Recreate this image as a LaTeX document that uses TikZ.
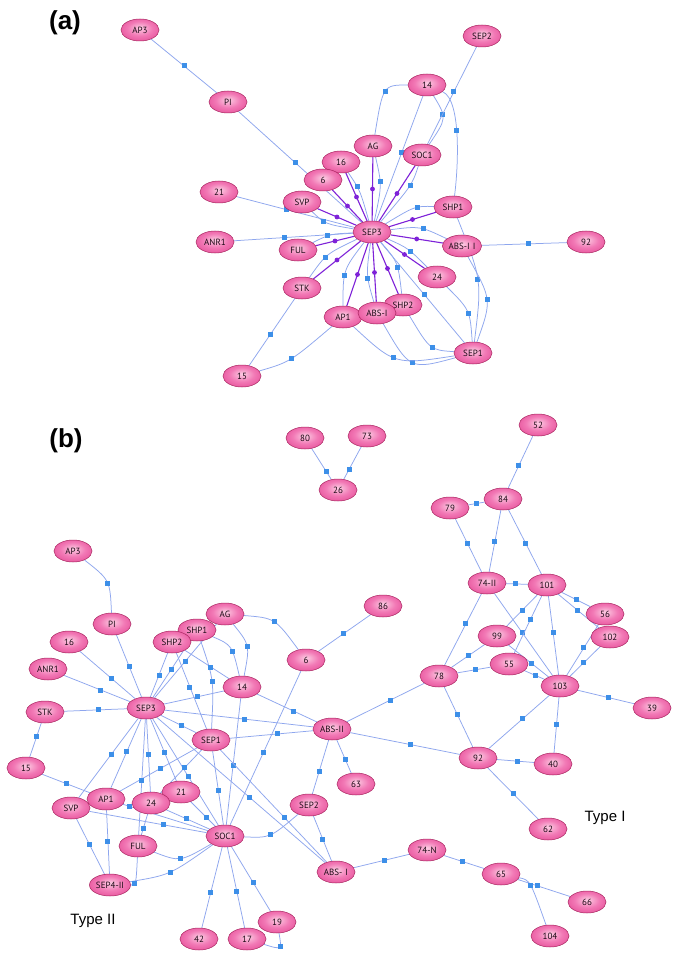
\documentclass[tikz,border=0pt]{standalone}
\usepackage{fontspec}
\setmainfont{Liberation Sans}
\newfontfamily\nodefont{PT Sans}
\usetikzlibrary{shapes.geometric}
\definecolor{edgeb}{HTML}{8EA6EE}
\definecolor{sqb}{HTML}{3D8FE8}
\definecolor{purp}{HTML}{7E22D8}
\definecolor{ninner}{HTML}{FCCDE3}
\definecolor{nmid}{HTML}{F27AB6}
\definecolor{nouter}{HTML}{E03C8C}
\definecolor{noutline}{HTML}{A8245F}
\definecolor{ntext}{HTML}{1E0A16}
\pgfdeclarelayer{bglayer}
\pgfdeclarelayer{edgelayer}
\pgfsetlayers{bglayer,edgelayer,main}
\pgfdeclareradialshading{nodeball}{\pgfpoint{0bp}{5bp}}{color(0bp)=(ninner); color(16bp)=(nmid); color(38bp)=(nouter); color(50bp)=(nouter)}
\tikzset{
  gn/.style={ellipse, draw=noutline, line width=0.5pt, shading=nodeball,
    minimum width=38pt, minimum height=22pt, inner sep=0.5pt,
    font=\nodefont\fontsize{9}{9}\selectfont, text=ntext},
  sqm/.style={rectangle, fill=sqb, minimum size=5pt, inner sep=0pt},
  dotp/.style={circle, fill=purp, minimum size=4.8pt, inner sep=0pt},
  eb/.style={draw=edgeb, line width=0.75pt},
  ep/.style={draw=purp, line width=1.1pt},
  panlab/.style={font=\bfseries\fontsize{26}{26}\selectfont, inner sep=0pt},
  typelab/.style={font=\fontsize{15}{15}\selectfont, inner sep=0pt}
}
\newcommand{\lnk}[3][0.5]{\draw[eb] (#2) -- node[sqm,pos=#1]{} (#3);}
\newcommand{\lnkc}[4][0.5]{\draw[eb] (#2) .. controls (#4) .. (#3) node[sqm,pos=#1]{};}
\newcommand{\lnkp}[2]{\draw[ep] (#1) -- node[dotp,pos=0.5]{} (#2);}
\begin{document}
\begin{tikzpicture}[x=1pt,y=-1pt]
\useasboundingbox (0,0) rectangle (685,968);
\begin{pgfonlayer}{bglayer}
\fill[white] (0,0) rectangle (685,968);
\end{pgfonlayer}
% ---------------- panel (a) ----------------
\node[panlab] (la) at (65,23) {(a)};
\node[gn] (aAP3) at (140,30) {AP3};
\node[gn] (aSEP2) at (482,36) {SEP2};
\node[gn] (a14) at (427,85) {14};
\node[gn] (aPI) at (228,102) {PI};
\node[gn] (aAG) at (373,146) {AG};
\node[gn] (aSOC1) at (422,155) {SOC1};
\node[gn] (a16) at (341,162) {16};
\node[gn] (a6) at (323,180) {6};
\node[gn] (a21) at (219,192) {21};
\node[gn] (aSVP) at (302,202) {SVP};
\node[gn] (aSHP1) at (453,207) {SHP1};
\node[gn] (aSEP3) at (372,232) {SEP3};
\node[gn] (aANR1) at (215,242) {ANR1};
\node[gn] (aFUL) at (298,250) {FUL};
\node[gn] (aABSII) at (462,246) {ABS-I\,\,I};
\node[gn] (a92) at (586,242) {92};
\node[gn] (a24) at (437,277) {24};
\node[gn] (aSTK) at (302,288) {STK};
\node[gn] (aSHP2) at (403,305) {SHP2};
\node[gn] (aAP1) at (343,317) {AP1};
\node[gn] (aABSI) at (377,313) {ABS-I};
\node[gn] (aSEP1) at (473,353) {SEP1};
\node[gn] (a15) at (242,376) {15};
% ---------------- panel (b) ----------------
\node[panlab] (lb) at (66,441) {(b)};
\node[gn] (bAP3) at (73,551) {AP3};
\node[gn] (bPI) at (112,624) {PI};
\node[gn] (bAG) at (225,614) {AG};
\node[gn] (bSHP1) at (197,630) {SHP1};
\node[gn] (bSHP2) at (172,642) {SHP2};
\node[gn] (b16) at (69,642) {16};
\node[gn] (bANR1) at (48,669) {ANR1};
\node[gn] (b6) at (306,660) {6};
\node[gn] (b14) at (242,687) {14};
\node[gn] (bSEP3) at (146,708) {SEP3};
\node[gn] (bSTK) at (45,712) {STK};
\node[gn] (bABSII) at (332,729) {ABS-II};
\node[gn] (bSEP1) at (211,740) {SEP1};
\node[gn] (b15) at (26,768) {15};
\node[gn] (b21) at (181,792) {21};
\node[gn] (b63) at (356,784) {63};
\node[gn] (bSEP2) at (309,805) {SEP2};
\node[gn] (bSVP) at (71,808) {SVP};
\node[gn] (bAP1) at (106,799) {AP1};
\node[gn] (b24) at (151,803) {24};
\node[gn] (bSOC1) at (225,836) {SOC1};
\node[gn] (bFUL) at (138,846) {FUL};
\node[gn] (bABSI) at (336,872) {ABS-\,\,I};
\node[gn] (bSEP4) at (110,885) {SEP4-II};
\node[gn] (b19) at (277,922) {19};
\node[gn] (b42) at (199,939) {42};
\node[gn] (b17) at (247,939) {17};
\node[gn] (b86) at (383,606) {86};
\node[gn] (b80) at (305,438) {80};
\node[gn] (b73) at (367,436) {73};
\node[gn] (b26) at (338,490) {26};
\node[gn] (b52) at (538,425) {52};
\node[gn] (b84) at (503,499) {84};
\node[gn] (b79) at (450,508) {79};
\node[gn] (b74II) at (487,583) {74-II};
\node[gn] (b101) at (547,585) {101};
\node[gn] (b56) at (605,614) {56};
\node[gn] (b102) at (610,637) {102};
\node[gn] (b99) at (497,636) {99};
\node[gn] (b55) at (509,664) {55};
\node[gn] (b78) at (439,676) {78};
\node[gn] (b103) at (560,686) {103};
\node[gn] (b39) at (652,708) {39};
\node[gn] (b92) at (478,758) {92};
\node[gn] (b40) at (553,764) {40};
\node[gn] (b62) at (548,829) {62};
\node[gn] (b74N) at (427,850) {74-N};
\node[gn] (b65) at (501,874) {65};
\node[gn] (b66) at (587,902) {66};
\node[gn] (b104) at (550,936) {104};
\node[typelab] (t2) at (93,921) {Type II};
\node[typelab] (t1) at (605,818) {Type I};
\begin{pgfonlayer}{edgelayer}
% ---- (a) blue ----
\lnk[0.5]{aAP3}{aPI}
\lnk[0.46]{aPI}{aSEP3}
\lnk[0.42]{a21}{aSEP3}
\lnk[0.42]{aANR1}{aSEP3}
\lnkc[0.38]{aSVP}{aSEP3}{325,224}
\lnkc[0.35]{a16}{aSEP3}{360,190}
\lnkc[0.4]{aAG}{aSEP3}{382,185}
\lnkc[0.5]{aAG}{a14}{383,85}
\lnk[0.45]{a14}{aSEP3}
\lnkc[0.4]{a14}{aSOC1}{447,118}
\lnk[0.46]{aSEP2}{aSOC1}
\lnkc[0.45]{aSOC1}{aSEP3}{412,185}
\draw[eb] (a14) .. controls (462,100) and (458,170) .. (aSHP1) node[sqm,pos=0.45]{};
\lnkc[0.4]{aSHP1}{aSEP3}{415,206}
\lnkc[0.42]{aABSII}{aSEP3}{420,226}
\lnk[0.55]{aABSII}{a92}
\lnkc[0.5]{aSHP1}{aSEP1}{482,280}
\lnkc[0.5]{aABSII}{aSEP1}{492,300}
\lnkc[0.55]{a24}{aSEP1}{470,310}
\lnk[0.52]{aSEP3}{aSEP1}
\lnkc[0.55]{aSHP2}{aSEP1}{430,350}
\lnkc[0.5]{aABSI}{aSEP1}{410,370}
\lnkc[0.45]{aAP1}{aSEP1}{395,365}
\lnkc[0.4]{a24}{aSEP3}{408,248}
\lnkc[0.4]{aSHP2}{aSEP3}{398,262}
\lnkc[0.4]{aABSI}{aSEP3}{366,275}
\lnkc[0.4]{aAP1}{aSEP3}{343,270}
\lnkc[0.42]{aSTK}{aSEP3}{326,254}
\lnkc[0.4]{aFUL}{aSEP3}{330,234}
\lnk[0.53]{aSTK}{a15}
\lnkc[0.5]{aAP1}{a15}{290,362}
% ---- (a) purple ----
\lnkp{aSEP3}{a16}
\lnkp{aSEP3}{aAG}
\lnkp{aSEP3}{aSOC1}
\lnkp{aSEP3}{aSHP1}
\lnkp{aSEP3}{aABSII}
\lnkp{aSEP3}{a24}
\lnkp{aSEP3}{aSHP2}
\lnkp{aSEP3}{aABSI}
\lnkp{aSEP3}{aAP1}
\lnkp{aSEP3}{aSTK}
\lnkp{aSEP3}{aFUL}
\lnkp{aSEP3}{aSVP}
\lnkp{aSEP3}{a6}
% ---- (b) ----
\lnkc[0.55]{bAP3}{bPI}{110,580}
\lnk[0.51]{bPI}{bSEP3}
\lnk[0.57]{b16}{bSEP3}
\lnk[0.56]{bANR1}{bSEP3}
\lnk[0.55]{bSTK}{bSEP3}
\lnk[0.41]{bSTK}{b15}
\lnk[0.51]{b15}{bAP1}
\lnk[0.5]{bSHP2}{bSEP3}
\lnk[0.5]{bSHP1}{bSEP3}
\lnk[0.5]{bAG}{bSEP3}
\lnk[0.45]{bSHP2}{bSEP1}
\lnkc[0.5]{bSHP1}{bSEP1}{214,680}
\lnk[0.59]{bSHP2}{b14}
\lnkc[0.6]{bSHP1}{b14}{232,645}
\lnkc[0.5]{bAG}{b14}{250,645}
\lnkc[0.5]{bAG}{b6}{275,618}
\lnk[0.49]{b6}{b86}
\lnk[0.55]{bSEP3}{b14}
\lnk[0.61]{b14}{bABSII}
\lnk[0.54]{bSEP3}{bABSII}
\lnk[0.58]{bSEP3}{bSEP1}
\lnk[0.57]{bSEP1}{bABSII}
\lnk[0.53]{b14}{bSOC1}
\lnk[0.53]{b6}{bSOC1}
\lnk[0.58]{bABSII}{b63}
\lnk[0.58]{bABSII}{bSEP2}
\lnkc[0.5]{bSEP2}{bSOC1}{270,838}
\lnk[0.52]{bSEP2}{bABSI}
\lnk[0.55]{bSEP3}{bABSI}
\lnk[0.6]{bSEP1}{bABSI}
\lnk[0.53]{bSEP1}{bSOC1}
\lnk[0.54]{bSEP3}{bSOC1}
\lnk[0.54]{bSEP3}{b21}
\lnk[0.41]{bSEP1}{b24}
\lnk[0.47]{bSEP1}{bAP1}
\lnk[0.48]{bSEP3}{b24}
\lnk[0.53]{bSEP3}{bFUL}
\lnk[0.67]{b24}{bFUL}
\lnk[0.47]{bSEP3}{bAP1}
\lnk[0.45]{bSEP3}{bSVP}
\lnk[0.08]{bAP1}{bSOC1}
\lnk[0.63]{bSVP}{bSOC1}
\lnk[0.46]{b24}{bSOC1}
\lnk[0.64]{b21}{bSOC1}
\lnkc[0.5]{bFUL}{bSOC1}{180,862}
\lnkc[0.5]{bSEP4}{bSOC1}{170,875}
\lnkc[0.6]{bFUL}{bSEP4}{136,885}
\lnk[0.49]{bAP1}{bSEP4}
\lnk[0.47]{bSVP}{bSEP4}
\lnk[0.56]{bSOC1}{b42}
\lnk[0.55]{bSOC1}{b17}
\lnk[0.56]{bSOC1}{b19}
\lnkc[0.6]{b17}{b19}{282,950}
\lnk[0.56]{bABSII}{b78}
\lnk[0.55]{bABSII}{b92}
\lnk[0.56]{bABSI}{b74N}
\lnk[0.47]{b74N}{b65}
\lnk[0.38]{b65}{b66}
\lnkc[0.5]{b65}{b104}{530,880}
\lnk[0.75]{b80}{b26}
\lnk[0.7]{b73}{b26}
\lnk[0.57]{b52}{b84}
\lnk[0.53]{b84}{b79}
\lnk[0.51]{b84}{b74II}
\lnk[0.52]{b84}{b101}
\lnk[0.47]{b79}{b74II}
\lnk[0.43]{b74II}{b101}
\lnk[0.42]{b74II}{b78}
\lnk[0.48]{b74II}{b103}
\lnk[0.5]{b101}{b99}
\lnk[0.42]{b101}{b55}
\lnk[0.46]{b101}{b103}
\lnk[0.5]{b101}{b56}
\lnk[0.48]{b101}{b102}
\lnk[0.46]{b56}{b103}
\lnk[0.55]{b102}{b103}
\lnk[0.57]{b99}{b103}
\lnk[0.53]{b55}{b103}
\lnk[0.48]{b99}{b78}
\lnk[0.46]{b55}{b78}
\lnk[0.46]{b78}{b92}
\lnk[0.44]{b103}{b92}
\lnk[0.49]{b103}{b40}
\lnk[0.54]{b103}{b39}
\lnk[0.55]{b92}{b40}
\lnk[0.5]{b92}{b62}
\end{pgfonlayer}
\end{tikzpicture}
\end{document}
